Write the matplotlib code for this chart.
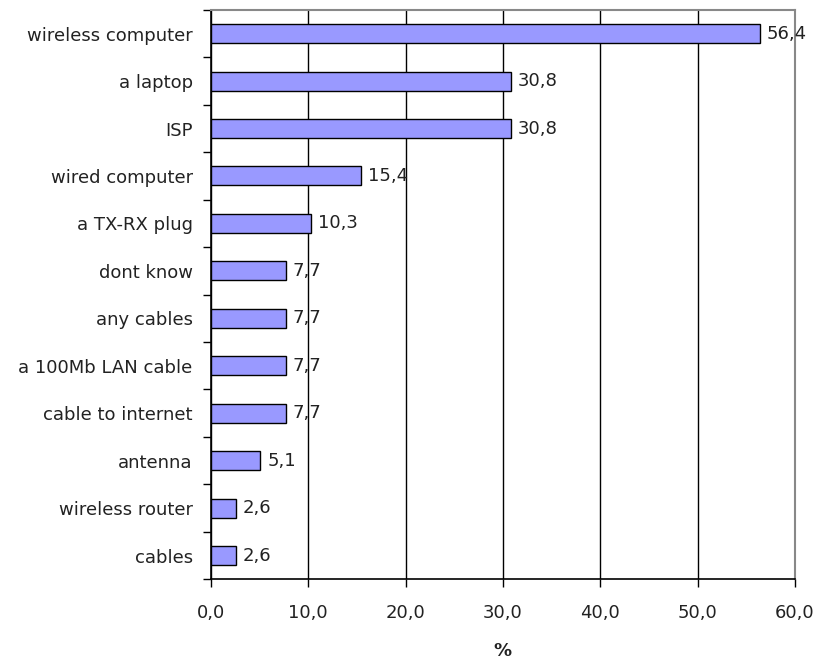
import matplotlib.pyplot as plt
from matplotlib.ticker import MultipleLocator, FuncFormatter, FixedLocator

plt.rcParams['font.family'] = ['DejaVu Sans']

categories = [
    "wireless computer", "a laptop", "ISP", "wired computer", "a TX-RX plug",
    "dont know", "any cables", "a 100Mb LAN cable", "cable to internet",
    "antenna", "wireless router", "cables",
]
values = [56.4, 30.8, 30.8, 15.4, 10.3, 7.7, 7.7, 7.7, 7.7, 5.1, 2.6, 2.6]

def comma(v, pos=None):
    return f"{v:.1f}".replace(".", ",")

fig = plt.figure(figsize=(8.17, 6.62), dpi=100)
ax = fig.add_axes([0.258, 0.125, 0.715, 0.86])

n = len(categories)
ypos = list(range(n))[::-1]
ax.barh(ypos, values, height=0.4, color="#9999ff", edgecolor="black",
        linewidth=1.0, zorder=3)

for y, v in zip(ypos, values):
    ax.text(v + 0.7, y, comma(v), va="center", ha="left", fontsize=13,
            color="#222222", zorder=4)

ax.set_xlim(0, 60)
ax.set_ylim(-0.5, n - 0.5)
ax.xaxis.set_major_locator(MultipleLocator(10))
ax.xaxis.set_major_formatter(FuncFormatter(comma))
ax.grid(axis="x", color="black", linewidth=1.0, zorder=1)

# category labels centred on bars, tick marks on the boundaries
ax.set_yticks(ypos)
ax.set_yticklabels(categories, fontsize=13, color="#222222")
ax.tick_params(axis="y", length=0, pad=13)
ax.yaxis.set_minor_locator(FixedLocator([i - 0.5 for i in range(n + 1)]))
ax.tick_params(axis="y", which="minor", length=6, width=1.0, direction="out")
ax.tick_params(axis="x", length=6, width=1.0, labelsize=13, pad=12,
               labelcolor="#222222")

for side in ("top", "right"):
    ax.spines[side].set_color("#888888")
    ax.spines[side].set_linewidth(1.5)
for side in ("left", "bottom"):
    ax.spines[side].set_color("black")
    ax.spines[side].set_linewidth(1.2)

ax.set_xlabel("%", fontsize=13, fontweight="bold", labelpad=14, color="#222222")

fig.savefig("out.png", dpi=100)
